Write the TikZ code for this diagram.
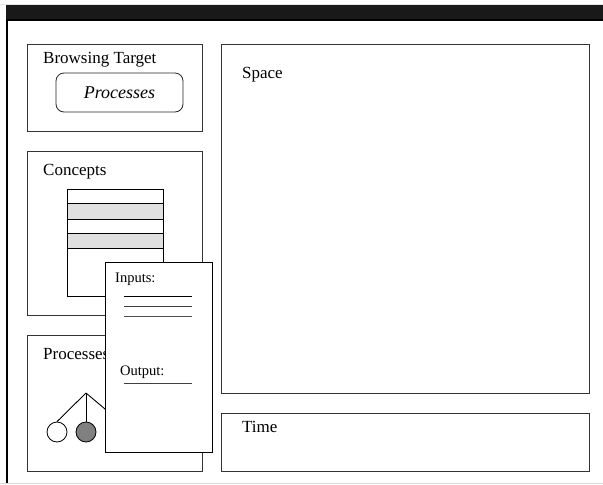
\documentclass[tikz,border=0pt]{standalone}
\usepackage{fontspec}
\setmainfont{Liberation Serif}
\begin{document}
\begin{tikzpicture}[x=1pt,y=-1pt,
  panel/.style={draw=black!80,line width=0.9pt,fill=white,anchor=north west,inner sep=0pt},
  label/.style={anchor=base west,inner sep=0pt,font=\fontsize{17}{20}\selectfont},
  small/.style={anchor=base west,inner sep=0pt,font=\fontsize{14.5}{17}\selectfont},
  rule/.style={line width=0.9pt},
  leaf/.style={circle,draw=black,line width=0.8pt,minimum size=20pt,inner sep=0pt}]
\useasboundingbox (0,0) rectangle (603,485);
\fill[white] (0,0) rectangle (603,485);

% window frame
\fill[black!10] (0,3.5) rectangle (603,4.5);
\fill[black!90] (6,5) rectangle (603,19);
\draw[line width=2pt] (6,20) -- (603,20);
\draw[line width=1.5pt] (7,20) -- (7,483);
\draw[black!15,line width=1pt] (0,483.5) -- (603,483.5);

% left panels
\node[panel,minimum width=175pt,minimum height=87pt] (target) at (27,44) {};
\node[label] (targetlbl) at (43,63) {Browsing Target};
\node[draw=black!85,line width=0.8pt,rounded corners=8pt,minimum width=127pt,minimum height=39pt,
  font=\fontsize{18}{20}\selectfont\itshape] (procbtn) at (119.5,92.5) {Processes};

\node[panel,minimum width=175pt,minimum height=164pt] (concepts) at (27,151) {};
\node[label] (conceptslbl) at (43,175) {Concepts};

% concept list
\fill[black!12] (67,203) rectangle (163,219);
\fill[black!12] (67,233) rectangle (163,248);
\node[draw=black,line width=0.9pt,anchor=north west,minimum width=96pt,minimum height=107pt,inner sep=0pt] (list) at (67,189) {};
\coordinate (r1w) at (67,203); \coordinate (r1e) at (163,203);
\coordinate (r2w) at (67,219); \coordinate (r2e) at (163,219);
\coordinate (r3w) at (67,233); \coordinate (r3e) at (163,233);
\coordinate (r4w) at (67,248); \coordinate (r4e) at (163,248);
\draw[rule] (r1w) -- (r1e);
\draw[rule] (r2w) -- (r2e);
\draw[rule] (r3w) -- (r3e);
\draw[rule] (r4w) -- (r4e);

\node[panel,minimum width=175pt,minimum height=136pt] (processes) at (27,335) {};
\node[label] (processeslbl) at (43,359) {Processes};

% process tree
\coordinate (root) at (86,393);
\node[leaf,fill=white] (leafa) at (57,432) {};
\node[leaf,fill=black!50] (leafb) at (86,432) {};
\node[leaf,fill=white] (leafc) at (120,432) {};
\draw[line width=0.9pt] (root) -- (leafa.north);
\draw[line width=0.9pt] (root) -- (leafb.north);
\draw[line width=0.9pt] (root) -- (leafc.north);

% right panels
\node[panel,minimum width=368pt,minimum height=349pt] (space) at (221,44) {};
\node[label] (spacelbl) at (242,78) {Space};
\node[panel,minimum width=368pt,minimum height=58pt] (time) at (221,413) {};
\node[label] (timelbl) at (242,432) {Time};

% detail pop-up
\node[panel,draw=black,minimum width=107pt,minimum height=190pt] (popup) at (105,262) {};
\node[small] (inputs) at (115,282) {Inputs:};
\coordinate (ia) at (124,296); \coordinate (ib) at (192,296);
\coordinate (ic) at (124,306); \coordinate (id) at (192,306);
\coordinate (ie) at (124,316); \coordinate (if) at (192,316);
\draw[line width=0.9pt] (ia) -- (ib);
\draw[line width=0.9pt,black!75] (ic) -- (id);
\draw[line width=0.9pt,black!70] (ie) -- (if);
\node[small] (output) at (120,375) {Output:};
\coordinate (oa) at (124,383); \coordinate (ob) at (192,383);
\draw[line width=0.9pt,black!75] (oa) -- (ob);
\end{tikzpicture}
\end{document}
